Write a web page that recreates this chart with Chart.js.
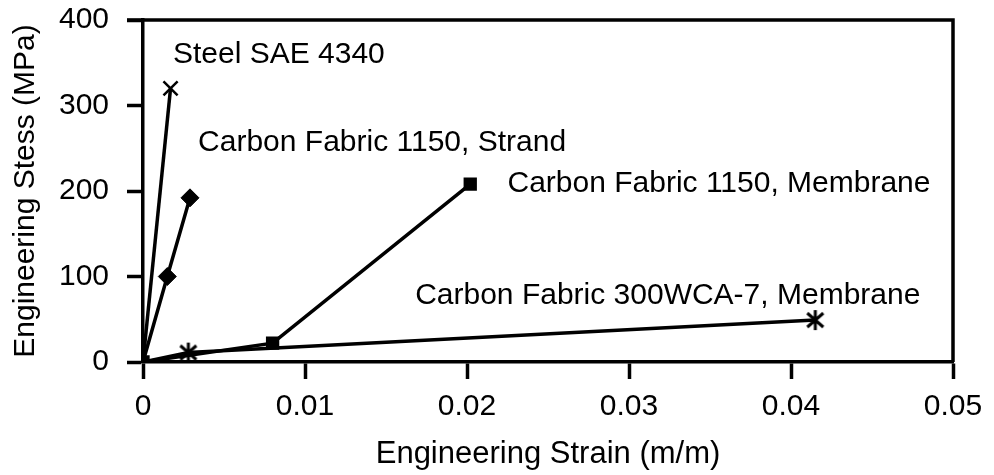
<!DOCTYPE html>
<html>
<head>
<meta charset="utf-8">
<script src="https://cdn.jsdelivr.net/npm/chart.js@4"></script>
<style>
  html, body { margin: 0; padding: 0; background: #fff; }
  #wrap { width: 994px; height: 475px; }
</style>
</head>
<body>
<div id="wrap"><canvas id="viz" width="994" height="475"></canvas></div>
<script>
// data (strain m/m, stress MPa)
const steelStrain = [0, 0.0017];
const steelStress = [0, 320];
const strandStrain = [0, 0.0015, 0.0029];
const strandStress = [0, 100, 192];
const memb1150Strain = [0, 0.008, 0.0202];
const memb1150Stress = [0, 22, 208];
const wcaStrain = [0, 0.0028, 0.0415];
const wcaStress = [0, 11, 49];

const seriesNames = ['Steel SAE 4340', 'Carbon Fabric 1150, Strand', 'Carbon Fabric 1150, Membrane', 'Carbon Fabric 300WCA-7, Membrane'];
// where each label sits, in data units (left edge, vertical middle)
const labelStrain = [0.00185, 0.0034, 0.0225, 0.0168];
const labelStress = [359, 256, 208, 77];

const xTicks = [0, 0.01, 0.02, 0.03, 0.04, 0.05];
const yTicks = [0, 100, 200, 300, 400];

const FONT = 'Liberation Sans, Arial, Helvetica, sans-serif';
const ctx = document.getElementById('viz').getContext('2d');

const pts = (xs, ys) => xs.map((x, i) => ({ x, y: ys[i] }));

// asterisk marker (x with a vertical stroke)
function makeAsterisk(){
  const c = document.createElement('canvas');
  c.width = 22; c.height = 22;
  const g = c.getContext('2d');
  g.strokeStyle = '#000';
  g.lineWidth = 3;
  g.beginPath();
  g.moveTo(11, 1); g.lineTo(11, 21);
  g.moveTo(3, 4); g.lineTo(19, 18);
  g.moveTo(19, 4); g.lineTo(3, 18);
  g.stroke();
  return c;
}
const asterisk = makeAsterisk();

const frame = {
  id: 'frame',
  afterDraw(chart){
    const { ctx, chartArea: a } = chart;
    ctx.save();
    ctx.strokeStyle = '#000';
    ctx.lineWidth = 3.5;
    ctx.beginPath();
    ctx.moveTo(a.left - 16, a.top);
    ctx.lineTo(a.right, a.top);
    ctx.lineTo(a.right, a.bottom);
    ctx.stroke();
    // series labels
    ctx.fillStyle = '#000';
    ctx.font = '30px ' + FONT;
    ctx.textAlign = 'left';
    ctx.textBaseline = 'middle';
    const xs = chart.scales.x, ys = chart.scales.y;
    seriesNames.forEach((n, i) => {
      ctx.fillText(n, xs.getPixelForValue(labelStrain[i]), ys.getPixelForValue(labelStress[i]));
    });
    ctx.restore();
  }
};

const base = { borderColor: '#000', backgroundColor: '#000', borderWidth: 3.5, showLine: true, pointBorderColor: '#000', pointBackgroundColor: '#000' };

new Chart(ctx, {
  type: 'scatter',
  data: {
    datasets: [
      { ...base, label: seriesNames[0], data: pts(steelStrain, steelStress), pointStyle: 'crossRot', pointRadius: [0, 10], pointBorderWidth: 2.5 },
      { ...base, label: seriesNames[1], data: pts(strandStrain, strandStress), pointStyle: 'rectRot', pointRadius: [0, 9, 9], pointBorderWidth: 1 },
      { ...base, label: seriesNames[2], data: pts(memb1150Strain, memb1150Stress), pointStyle: 'rect', pointRadius: 8, pointBorderWidth: 2 },
      { ...base, label: seriesNames[3], data: pts(wcaStrain, wcaStress), pointStyle: asterisk, pointRadius: [0, 11, 11] }
    ]
  },
  options: {
    responsive: false,
    animation: false,
    layout: { padding: { top: 20, right: 41, left: 0, bottom: 0 } },
    plugins: { legend: { display: false }, tooltip: { enabled: false } },
    scales: {
      x: {
        type: 'linear', min: 0, max: 0.05,
        afterFit: s => { s.height = 113; s.paddingLeft = 0; s.paddingRight = 0; },
        afterBuildTicks: s => { s.ticks = xTicks.map(v => ({ value: v })); },
        ticks: { color: '#000', font: { family: FONT, size: 30 }, padding: 10, maxRotation: 0,
                 callback: v => String(+v.toFixed(2)) },
        grid: { drawOnChartArea: false, tickLength: 17, tickColor: '#000', tickWidth: 3.5 },
        border: { color: '#000', width: 3.5 },
        title: { display: true, text: 'Engineering Strain (m/m)', color: '#000', font: { family: FONT, size: 31 }, padding: { top: 4, bottom: 2 } }
      },
      y: {
        type: 'linear', min: 0, max: 400,
        afterFit: s => { s.width = 143; s.paddingTop = 0; s.paddingBottom = 0; },
        afterBuildTicks: s => { s.ticks = yTicks.map(v => ({ value: v })); },
        ticks: { color: '#000', font: { family: FONT, size: 30 }, padding: 18 },
        grid: { drawOnChartArea: false, tickLength: 16, tickColor: '#000', tickWidth: 3.5 },
        border: { color: '#000', width: 3.5 },
        title: { display: true, text: 'Engineering Stess (MPa)', color: '#000', font: { family: FONT, size: 30 }, padding: { bottom: 0, top: 8 } }
      }
    }
  },
  plugins: [frame]
});
</script>
</body>
</html>
